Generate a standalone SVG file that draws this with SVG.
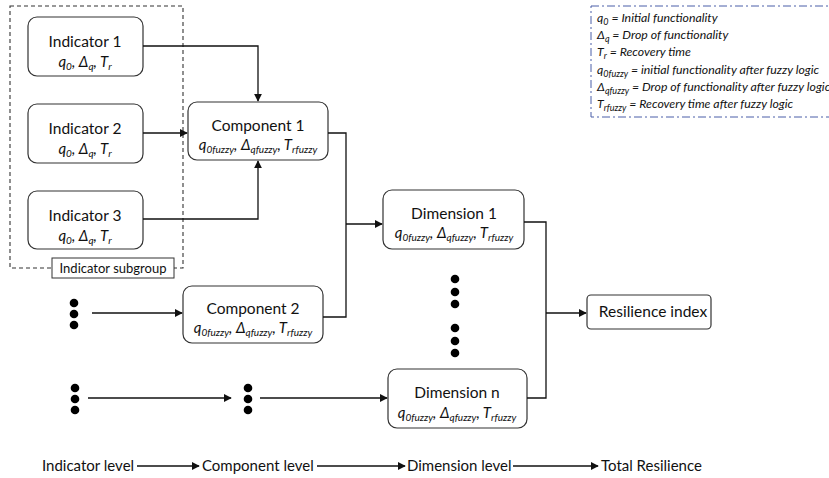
<svg xmlns="http://www.w3.org/2000/svg" width="829" height="478" viewBox="0 0 829 478">
<defs>
<marker id="ah" viewBox="0 0 10 10" refX="9" refY="5" markerWidth="8" markerHeight="8" markerUnits="userSpaceOnUse" orient="auto">
<path d="M0,0 L10,5 L0,10 z" fill="#111"/>
</marker>
<style>
.box{fill:#fff;stroke:#333;stroke-width:1.2}
.t{font-family:Lato,"Liberation Sans",sans-serif;font-size:15.5px;fill:#111;text-anchor:middle}
.m{font-family:Lato,"Liberation Sans",sans-serif;font-style:italic;font-size:15px;fill:#111;text-anchor:middle}
.s{font-size:10px}
.c{fill:none;stroke:#111;stroke-width:1.3}
.a{marker-end:url(#ah)}
.lg{font-family:Lato,"Liberation Sans",sans-serif;font-style:italic;font-size:12.3px;fill:#111}
.lg .s{font-size:9px}
.lv{font-family:Lato,"Liberation Sans",sans-serif;font-size:15px;fill:#111}
.dot{fill:#000}
</style>
</defs>
<rect width="829" height="478" fill="#fff"/>

<g id="indicator-subgroup">
<rect x="10" y="6" width="173" height="262" fill="none" stroke="#333" stroke-width="1.1" stroke-dasharray="4,3"/>
<rect x="52" y="258" width="122" height="20" fill="#fff" stroke="#333" stroke-width="1"/>
<text x="113" y="273" class="t" style="font-size:13px">Indicator subgroup</text>
</g>

<g id="indicator1">
<rect class="box" x="28" y="17" width="115" height="59" rx="9"/>
<text class="t" x="85" y="47">Indicator 1</text>
<text class="m" x="85" y="67">q<tspan class="s" dy="3">0</tspan><tspan dy="-3">, Δ</tspan><tspan class="s" dy="3">q</tspan><tspan dy="-3">, T</tspan><tspan class="s" dy="3">r</tspan></text>
</g>
<g id="indicator2">
<rect class="box" x="28" y="104" width="115" height="59" rx="9"/>
<text class="t" x="85" y="134">Indicator 2</text>
<text class="m" x="85" y="154">q<tspan class="s" dy="3">0</tspan><tspan dy="-3">, Δ</tspan><tspan class="s" dy="3">q</tspan><tspan dy="-3">, T</tspan><tspan class="s" dy="3">r</tspan></text>
</g>
<g id="indicator3">
<rect class="box" x="28" y="191" width="115" height="58" rx="9"/>
<text class="t" x="85" y="221">Indicator 3</text>
<text class="m" x="85" y="241">q<tspan class="s" dy="3">0</tspan><tspan dy="-3">, Δ</tspan><tspan class="s" dy="3">q</tspan><tspan dy="-3">, T</tspan><tspan class="s" dy="3">r</tspan></text>
</g>

<g id="component1">
<rect class="box" x="188" y="102" width="140" height="58" rx="9"/>
<text class="t" x="258" y="131">Component 1</text>
<text class="m" x="258" y="150">q<tspan class="s" dy="3">0fuzzy</tspan><tspan dy="-3">, Δ</tspan><tspan class="s" dy="3">qfuzzy</tspan><tspan dy="-3">, T</tspan><tspan class="s" dy="3">rfuzzy</tspan></text>
</g>
<g id="component2">
<rect class="box" x="183" y="286" width="140" height="57" rx="9"/>
<text class="t" x="253" y="314">Component 2</text>
<text class="m" x="253" y="333">q<tspan class="s" dy="3">0fuzzy</tspan><tspan dy="-3">, Δ</tspan><tspan class="s" dy="3">qfuzzy</tspan><tspan dy="-3">, T</tspan><tspan class="s" dy="3">rfuzzy</tspan></text>
</g>
<g id="dimension1">
<rect class="box" x="383" y="190" width="141" height="59" rx="9"/>
<text class="t" x="454" y="219">Dimension 1</text>
<text class="m" x="454" y="238">q<tspan class="s" dy="3">0fuzzy</tspan><tspan dy="-3">, Δ</tspan><tspan class="s" dy="3">qfuzzy</tspan><tspan dy="-3">, T</tspan><tspan class="s" dy="3">rfuzzy</tspan></text>
</g>
<g id="dimensionn">
<rect class="box" x="388" y="369" width="139" height="59" rx="9"/>
<text class="t" x="457" y="398">Dimension n</text>
<text class="m" x="457" y="418">q<tspan class="s" dy="3">0fuzzy</tspan><tspan dy="-3">, Δ</tspan><tspan class="s" dy="3">qfuzzy</tspan><tspan dy="-3">, T</tspan><tspan class="s" dy="3">rfuzzy</tspan></text>
</g>
<g id="resilience-index">
<rect class="box" x="587" y="295" width="124" height="34" rx="4"/>
<text class="t" x="653" y="317">Resilience index</text>
</g>

<g id="ellipsis-dots">
<circle class="dot" cx="74" cy="303" r="4.3"/><circle class="dot" cx="74" cy="314" r="4.3"/><circle class="dot" cx="74" cy="325" r="4.3"/>
<circle class="dot" cx="75" cy="388" r="4.3"/><circle class="dot" cx="75" cy="399" r="4.3"/><circle class="dot" cx="75" cy="410" r="4.3"/>
<circle class="dot" cx="248" cy="388" r="4.3"/><circle class="dot" cx="248" cy="399" r="4.3"/><circle class="dot" cx="248" cy="410" r="4.3"/>
<circle class="dot" cx="455" cy="279" r="4.3"/><circle class="dot" cx="455" cy="292" r="4.3"/><circle class="dot" cx="455" cy="304" r="4.3"/>
<circle class="dot" cx="455" cy="328" r="4.3"/><circle class="dot" cx="455" cy="341" r="4.3"/><circle class="dot" cx="455" cy="353" r="4.3"/>
</g>

<g id="connectors">
<path class="c a" d="M143,46 H258 V101"/>
<path class="c a" d="M143,133 H187"/>
<path class="c a" d="M143,219 H258 V161"/>
<path class="c" d="M328,133 H346 V317 H323"/>
<path class="c a" d="M346,224 H382"/>
<path class="c a" d="M92,313 H182"/>
<path class="c a" d="M88,398 H231"/>
<path class="c a" d="M260,398 H387"/>
<path class="c" d="M524,222 H546 V398 H527"/>
<path class="c a" d="M546,313 H586"/>
<path class="c a" d="M137,466 H199"/>
<path class="c a" d="M317,466 H405"/>
<path class="c a" d="M513,466 H598"/>
</g>

<g id="legend">
<rect x="591" y="6" width="250" height="111" fill="none" stroke="#4a5fa8" stroke-width="1" stroke-dasharray="8,3,2,3"/>
<text class="lg" x="597" y="22">q<tspan class="s" dy="3">0</tspan><tspan dy="-3"> = Initial functionality</tspan></text>
<text class="lg" x="597" y="39">Δ<tspan class="s" dy="3">q</tspan><tspan dy="-3"> = Drop of functionality</tspan></text>
<text class="lg" x="597" y="56">T<tspan class="s" dy="3">r</tspan><tspan dy="-3"> = Recovery time</tspan></text>
<text class="lg" x="597" y="74">q<tspan class="s" dy="3">0fuzzy</tspan><tspan dy="-3"> = initial functionality after fuzzy logic</tspan></text>
<text class="lg" x="597" y="91">Δ<tspan class="s" dy="3">qfuzzy</tspan><tspan dy="-3"> = Drop of functionality after fuzzy logic</tspan></text>
<text class="lg" x="597" y="108">T<tspan class="s" dy="3">rfuzzy</tspan><tspan dy="-3"> = Recovery time after fuzzy logic</tspan></text>
</g>

<g id="levels">
<text class="lv" x="42" y="471">Indicator level</text>
<text class="lv" x="202" y="471">Component level</text>
<text class="lv" x="407" y="471">Dimension level</text>
<text class="lv" x="601" y="471">Total Resilience</text>
</g>
</svg>
